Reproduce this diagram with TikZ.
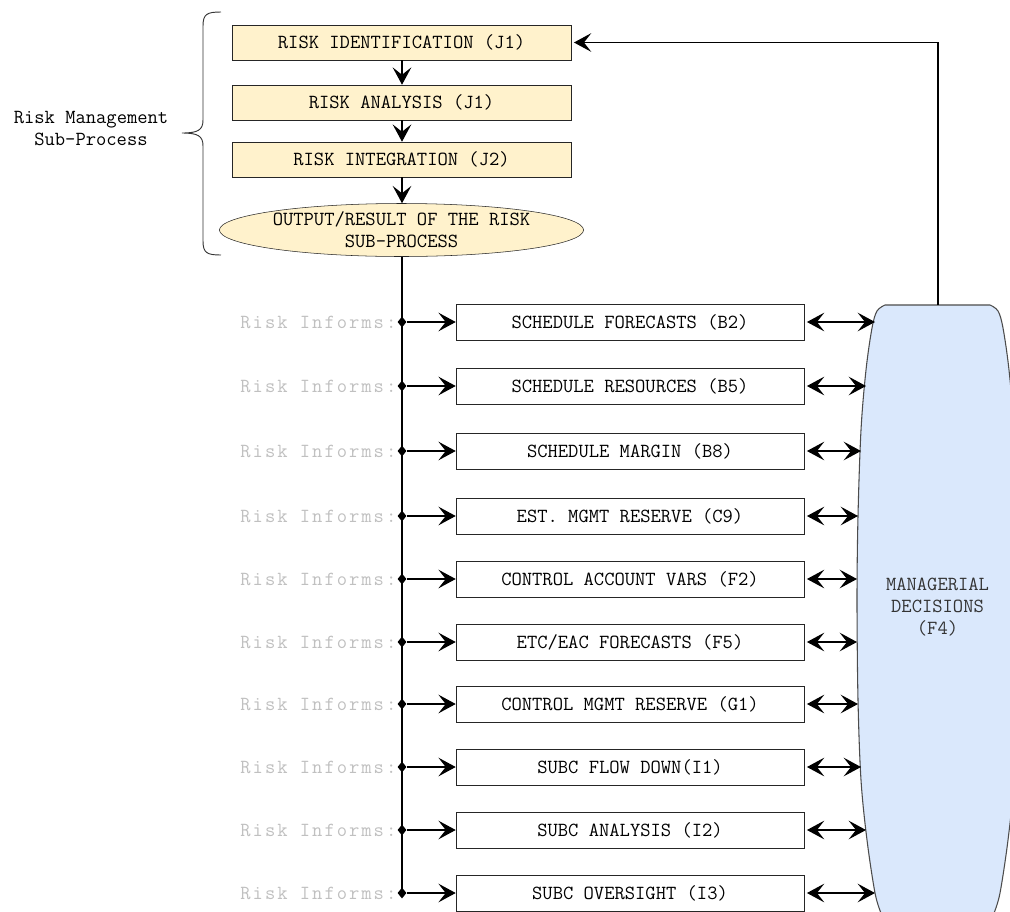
\documentclass[tikz,border=0pt]{standalone}
\usepackage{fontspec}
\usetikzlibrary{arrows.meta,shapes.geometric}
\definecolor{yfill}{HTML}{FFF2CC}
\definecolor{bfill}{HTML}{DAE8FC}
\definecolor{informgray}{HTML}{C0C0C0}
\newfontfamily\informfont[LetterSpace=10]{Latin Modern Mono}
\begin{document}
\begin{tikzpicture}[x=0.75pt,y=-0.75pt,
  every node/.style={font=\ttfamily\fontsize{15pt}{16.5pt}\selectfont, inner sep=0pt},
  ybox/.style={draw=black!85, fill=yfill, minimum width=339*0.75pt, minimum height=35*0.75pt},
  wbox/.style={draw=black!85, fill=white, minimum width=348*0.75pt, minimum height=36*0.75pt},
  outell/.style={ellipse, draw=black!85, fill=yfill, minimum width=347*0.75pt, minimum height=53*0.75pt, align=center},
  arr/.style={-{Stealth[length=13pt,width=14pt,inset=5.5pt]}, line width=0.9pt},
  darr/.style={{Stealth[length=13pt,width=14pt,inset=5.5pt]}-{Stealth[length=13pt,width=14pt,inset=5.5pt]}, line width=0.9pt},
  ln/.style={line width=0.9pt},
  dia/.style={diamond, fill=black, inner sep=0pt, minimum width=9*0.75pt, minimum height=11*0.75pt},
  inform/.style={text=informgray, anchor=east, font=\informfont\fontsize{15pt}{16.5pt}\selectfont},
  mshape/.style={draw=black!70, fill=bfill, line width=0.8pt}
]
\useasboundingbox (0,0) rectangle (1010,911);

% brace and label
\draw[line width=0.7pt, black!80] (221,12) .. controls (207,12) and (203,14) .. (203,26)
  -- (203,120) .. controls (203,130) and (198,133) .. (182,133)
  .. controls (198,133) and (203,136) .. (203,146)
  -- (203,241) .. controls (203,253) and (207,255) .. (221,255);
\node[align=center] (rmlabel) at (91,129) {Risk Management\\Sub-Process};

% risk sub-process
\node[ybox] (ident) at (401.5,42.5) {RISK IDENTIFICATION (J1)};
\node[ybox] (anal) at (401.5,102.5) {RISK ANALYSIS (J1)};
\node[ybox] (integ) at (401.5,159.5) {RISK INTEGRATION (J2)};
\node[outell] (out) at (401.5,230) {OUTPUT/RESULT OF THE RISK\\SUB-PROCESS};
\coordinate (spine) at (402,256);

\draw[arr] (ident.south -| spine) -- (anal.north -| spine);
\draw[arr] (anal.south -| spine) -- (integ.north -| spine);
\draw[arr] (integ.south -| spine) -- (out.north -| spine);

% managerial decisions shape
\draw[mshape] plot[smooth, tension=0.55] coordinates {(881,913) (875,893) (867,840) (861,780) (858,700) (857,600) (858,516) (861,430) (866,370) (872,328) (877,311) (885,305)}
  -- (990,305) -- plot[smooth, tension=0.55] coordinates {(990,305) (998,311) (1003,328) (1009,370) (1014,430) (1017,516) (1018,600) (1017,700) (1014,780) (1008,840) (1000,893) (994,913)} -- cycle;
\node[align=center, text=black!80] (mgr) at (937.5,607) {MANAGERIAL\\DECISIONS\\(F4)};
\coordinate (mtop) at (938,305);
\draw[arr] (mtop) -- (mtop |- ident.east) -- ([xshift=2pt]ident.east);

% rows
\foreach \i/\y/\t/\rx in {
  1/322/{SCHEDULE FORECASTS (B2)}/875,
  2/386/{SCHEDULE RESOURCES (B5)}/866,
  3/451/{SCHEDULE MARGIN (B8)}/861,
  4/516/{EST. MGMT RESERVE (C9)}/858,
  5/579/{CONTROL ACCOUNT VARS (F2)}/857,
  6/642/{ETC/EAC FORECASTS (F5)}/857,
  7/704/{CONTROL MGMT RESERVE (G1)}/858,
  8/767/{SUBC FLOW DOWN(I1)}/861,
  9/830/{SUBC ANALYSIS (I2)}/866,
  10/893/{SUBC OVERSIGHT (I3)}/875} {
  \node[wbox] (b\i) at (630,\y) {\t};
  \node[dia] (d\i) at (402,\y) {};
  \node[inform] (ri\i) at ([xshift=-0.5pt]d\i.west) {Risk Informs:};
  \coordinate (r\i) at (\rx,\y);
  \draw[arr] (d\i) -- (b\i.west);
  \draw[darr] ([xshift=2pt]b\i.east) -- (r\i);
}
\draw[ln] (out.south -| spine) -- (d10.center);
\end{tikzpicture}
\end{document}
